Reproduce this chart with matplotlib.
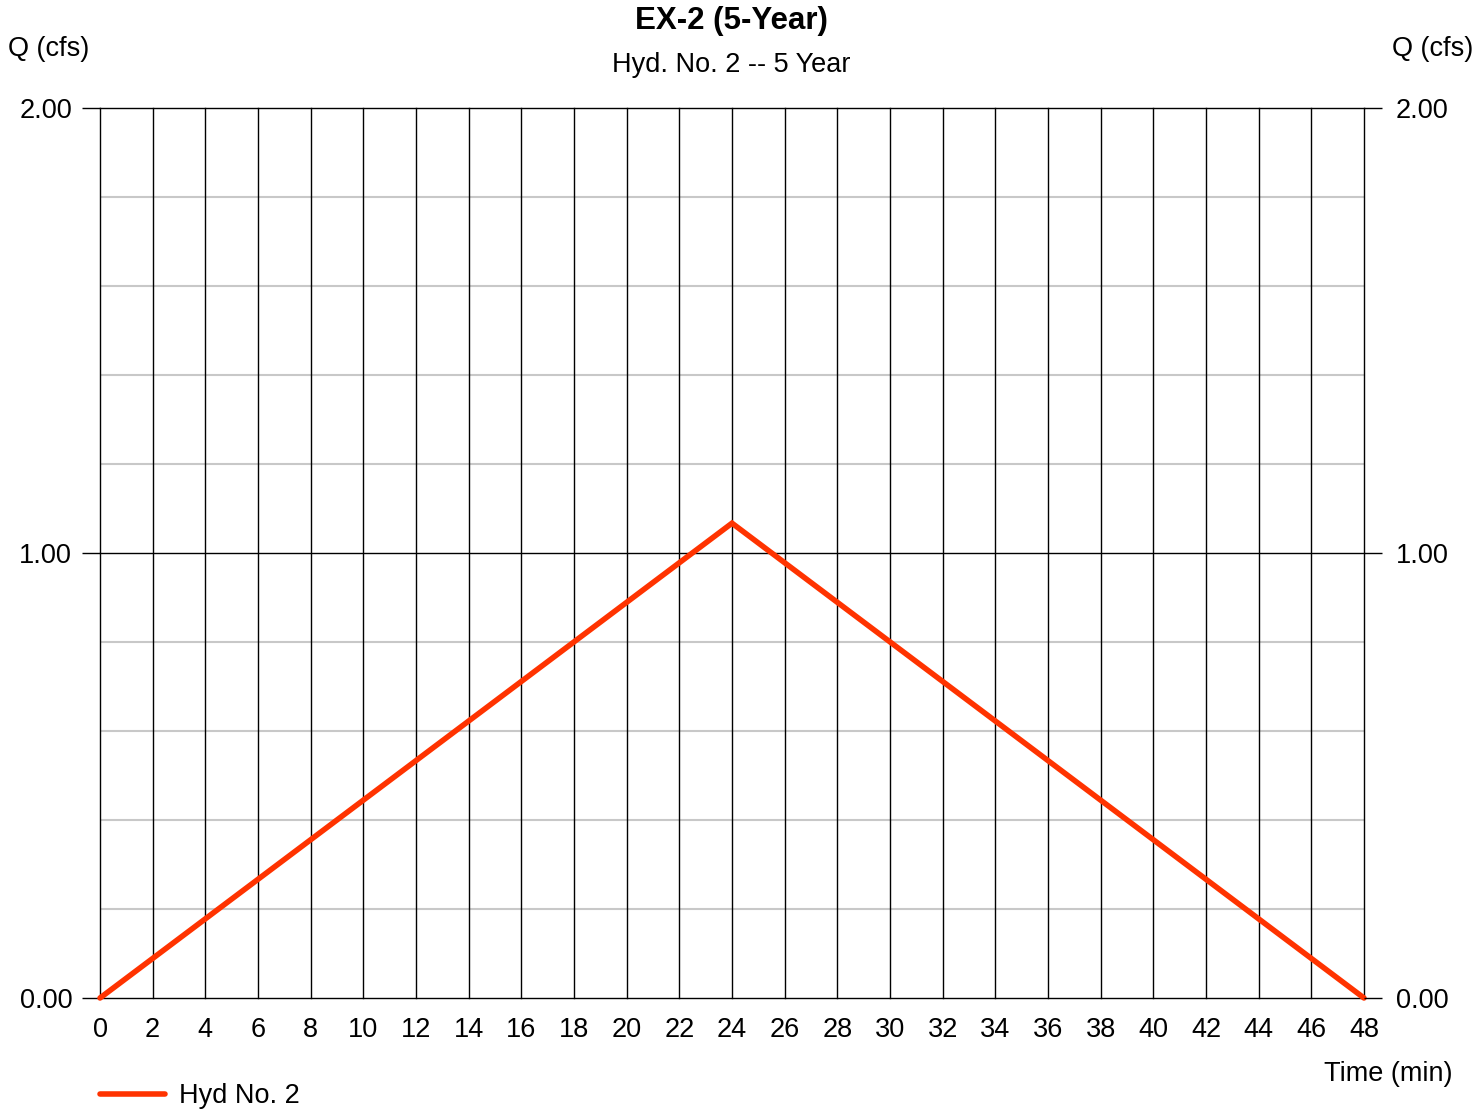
import matplotlib.pyplot as plt
import numpy as np

plt.rcParams['font.family'] = ['Liberation Sans', 'DejaVu Sans']

# Hydrograph data
time_min = [0, 24, 48]
flow_cfs = [0.0, 1.067, 0.0]
x_ticks = list(range(0, 50, 2))
y_major = [0.0, 1.0, 2.0]
y_minor = [0.2, 0.4, 0.6, 0.8, 1.2, 1.4, 1.6, 1.8]

fs = 19.5

fig = plt.figure(figsize=(14.75, 11.1), dpi=100)
ax = fig.add_axes([100/1475, 1 - 998/1110, 1264/1475, 890/1110])

ax.set_xlim(0, 48)
ax.set_ylim(0, 2)

# grid lines
for yv in y_minor:
    ax.axhline(yv, color='#c8c8c8', lw=1.5, zorder=1)
for xv in x_ticks:
    ax.axvline(xv, color='black', lw=1.0, zorder=2, clip_on=False)
for yv in y_major:
    ax.axhline(yv, color='black', lw=1.0, zorder=2, clip_on=False)

for s in ax.spines.values():
    s.set_visible(False)

ax.plot(time_min, flow_cfs, color='#ff3300', lw=4.0, zorder=5,
        solid_capstyle='round', solid_joinstyle='miter', clip_on=False,
        label='Hyd No. 2')

ax.set_xticks(x_ticks)
ax.set_xticklabels([str(v) for v in x_ticks], fontsize=fs)
ax.tick_params(axis='x', length=0, pad=14)
ax.set_yticks(y_major)
ax.set_yticklabels([f'{v:.2f}' for v in y_major], fontsize=fs)
ax.tick_params(axis='y', length=13, width=1.0, pad=7)

# right-hand axis labels
ax2 = ax.twinx()
ax2.set_ylim(0, 2)
ax2.set_yticks(y_major)
ax2.set_yticklabels([f'{v:.2f}' for v in y_major], fontsize=fs)
ax2.tick_params(axis='y', length=13, width=1.0, pad=10)
for s in ax2.spines.values():
    s.set_visible(False)

fig.text(731/1475, 1 - 21/1110, 'EX-2 (5-Year)', ha='center', va='center',
         fontsize=22.5, fontweight='bold')
fig.text(731/1475, 1 - 65/1110, 'Hyd. No. 2 -- 5 Year', ha='center', va='center',
         fontsize=fs)
fig.text(8/1475, 1 - 49/1110, 'Q (cfs)', ha='left', va='center', fontsize=fs)
fig.text(1473/1475, 1 - 49/1110, 'Q (cfs)', ha='right', va='center', fontsize=fs)
fig.text(1452/1475, 1 - 1074/1110, 'Time (min)', ha='right', va='center', fontsize=fs)

leg = fig.legend(loc='center left', bbox_to_anchor=(100/1475, 1 - 1096/1110),
                 frameon=False, fontsize=fs, handlelength=2.4, handletextpad=0.5,
                 borderaxespad=0, borderpad=0)

fig.savefig('out.png', dpi=100)
